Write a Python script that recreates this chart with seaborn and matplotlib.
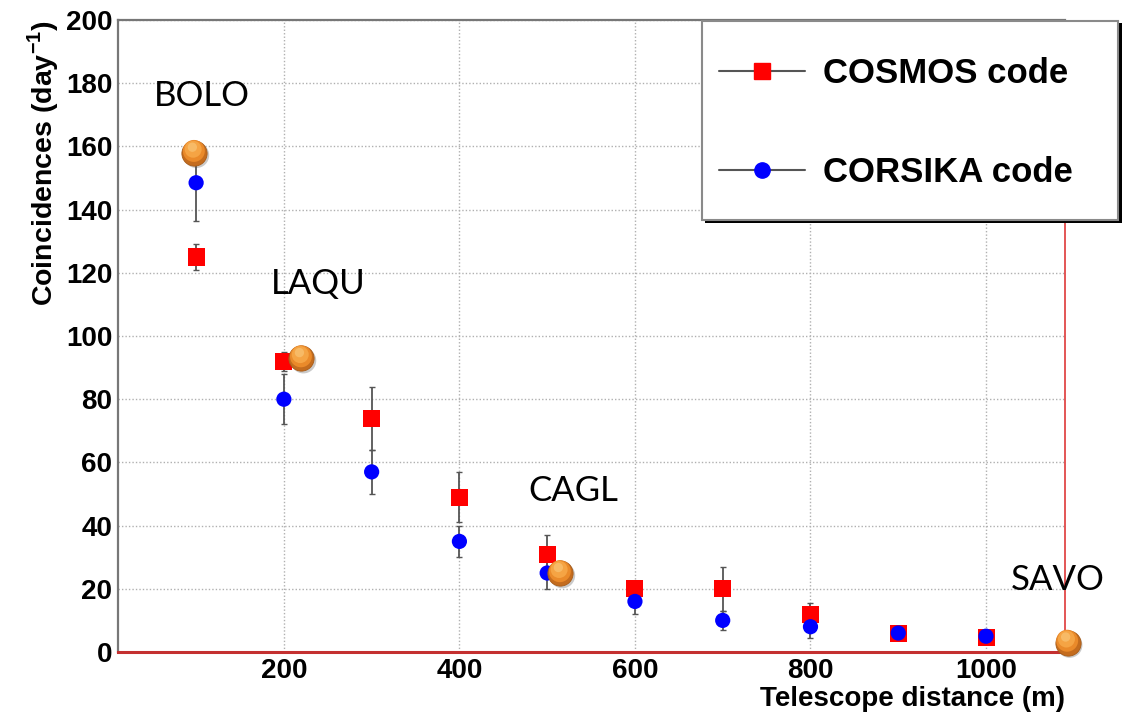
import matplotlib
matplotlib.use("Agg")
import matplotlib.pyplot as plt
from matplotlib.lines import Line2D
from matplotlib.patches import Rectangle
from matplotlib.transforms import ScaledTranslation
import seaborn as sns
import numpy as np
import pandas as pd

# ---------------- data ----------------
distance = [100, 200, 300, 400, 500, 600, 700, 800, 900, 1000]
cosmos = [125, 92, 74, 49, 31, 20, 20, 12, 6, 4.5]
cosmos_err = [4, 3, 10, 8, 6, 2, 7, 3.5, 1, 1]
corsika = [148.5, 80, 57, 35, 25, 16, 10, 8, 6, 5]
corsika_err = [12, 8, 7, 5, 5, 4, 3, 3.5, 1, 1]

stations = ["BOLO", "LAQU", "CAGL", "SAVO"]
station_dist = [98, 220, 515, 1093]
station_coinc = [158, 93, 25, 3]
# label anchor positions (data coords)
label_pos = [(107, 176), (239, 116.6), (530, 51), (1082, 22.7)]

legend_labels = ["COSMOS code", "CORSIKA code"]

# ---------------- style ----------------
sns.set_style("white")
plt.rcParams["font.family"] = ["Liberation Sans", "DejaVu Sans"]
plt.rcParams["mathtext.fontset"] = "custom"
plt.rcParams["mathtext.rm"] = "Liberation Sans"
plt.rcParams["mathtext.bf"] = "Liberation Sans:bold"
plt.rcParams["text.color"] = "black"
plt.rcParams["axes.labelcolor"] = "black"

fig = plt.figure(figsize=(11.22, 7.17), dpi=100)
ax = fig.add_axes([118 / 1122, 65 / 717, 947 / 1122, 632 / 717])

df_c = pd.DataFrame({"d": distance, "v": cosmos})
df_k = pd.DataFrame({"d": distance, "v": corsika})
df_s = pd.DataFrame({"d": station_dist, "v": station_coinc})

ax.errorbar(distance, cosmos, yerr=cosmos_err, fmt="none", ecolor="#555555",
            elinewidth=1.3, capsize=2.5, capthick=1.0, zorder=2)
ax.errorbar(distance, corsika, yerr=corsika_err, fmt="none", ecolor="#555555",
            elinewidth=1.3, capsize=2.5, capthick=1.0, zorder=2)

sns.scatterplot(data=df_c, x="d", y="v", marker="s", color="#ff0000", s=150,
                edgecolor="none", ax=ax, zorder=3)
sns.scatterplot(data=df_k, x="d", y="v", marker="o", color="#0000ff", s=120,
                edgecolor="none", ax=ax, zorder=4)

# orange "balls" with a simple shaded look
def ball_layer(color, s, dx, dy, alpha=1.0, ec="none", lw=0.0, z=6):
    sns.scatterplot(data=df_s, x="d", y="v", marker="o", color=color, s=s,
                    edgecolor=ec, linewidth=lw, alpha=alpha, ax=ax, zorder=z)
    coll = ax.collections[-1]
    coll.set_offset_transform(ax.transData +
                              ScaledTranslation(dx / 100, dy / 100, fig.dpi_scale_trans))
    coll.set_clip_on(False)

ball_layer("#505050", 340, 2.0, -2.5, alpha=0.3, z=5)
ball_layer("#c46c1e", 330, 0, 0, ec="#a85c18", lw=0.6, z=6)
ball_layer("#ea8a2a", 250, -0.5, 1.8, z=7)
ball_layer("#f5a444", 150, -1.2, 3.5, z=8)
ball_layer("#f8bd6a", 45, -2.0, 5.5, alpha=0.9, z=9)

for name, (px, py) in zip(stations, label_pos):
    ax.text(px, py, name, fontsize=25, family=["Lato", "DejaVu Sans"],
            ha="center", va="center", color="black", clip_on=False, zorder=10)

# ---------------- axes ----------------
ax.set_xlim(11, 1090)
ax.set_ylim(0, 200)
ax.set_xticks([200, 400, 600, 800, 1000])
ax.set_xticks(np.arange(50, 1090, 50), minor=True)
ax.set_yticks(np.arange(0, 201, 20))
ax.set_yticks(np.arange(0, 201, 5), minor=True)

ax.tick_params(axis="both", which="both", direction="in", colors="#666666",
               labelcolor="black", width=1.6)
ax.tick_params(axis="y", which="major", length=20, pad=4, labelsize=20)
ax.tick_params(axis="y", which="minor", length=10.5)
ax.tick_params(axis="x", which="major", length=14.5, pad=4, labelsize=20)
ax.tick_params(axis="x", which="minor", length=6.5)
for lab in ax.get_xticklabels() + ax.get_yticklabels():
    lab.set_fontweight("bold")

ax.grid(True, which="major", linestyle=(0, (1, 1.5)), color="#b0b0b0", linewidth=1.0)
ax.set_axisbelow(True)

ax.spines["left"].set_color("#777777")
ax.spines["left"].set_linewidth(1.6)
ax.spines["top"].set_color("#777777")
ax.spines["top"].set_linewidth(1.6)
ax.spines["bottom"].set_color("#c43030")
ax.spines["bottom"].set_linewidth(2.2)
ax.spines["right"].set_color("#e04848")
ax.spines["right"].set_linewidth(1.3)

ax.set_xlabel("Telescope distance (m)", fontsize=20, fontweight="bold")
ax.xaxis.set_label_coords(1.0, -0.0745)
ax.xaxis.label.set_ha("right")
ax.xaxis.label.set_va("center")

ax.set_ylabel(r"Coincidences (day$^{\mathbf{-1}}$)", fontsize=20.5, fontweight="bold")
ax.yaxis.set_label_coords(-0.0795, 1.0)
ax.yaxis.label.set_rotation_mode("default")
ax.yaxis.label.set_ha("center")
ax.yaxis.label.set_va("top")

# ---------------- legend ----------------
# frame with black drop shadow (figure pixels converted to fractions)
W, H = 1122, 717
fig.patches.append(Rectangle(((702 + 3) / W, 1 - (220 + 3) / H), 418 / W, 200 / H,
                             transform=fig.transFigure, facecolor="black",
                             edgecolor="none", zorder=20))
fig.patches.append(Rectangle((702 / W, 1 - 220 / H), 416 / W, 199 / H,
                             transform=fig.transFigure, facecolor="white",
                             edgecolor="#8a8a8a", linewidth=1.5, zorder=21))

handles = [
    Line2D([], [], color="#555555", lw=1.5, marker="s", markersize=12,
           markerfacecolor="#ff0000", markeredgecolor="#ff0000"),
    Line2D([], [], color="#555555", lw=1.5, marker="o", markersize=11,
           markerfacecolor="#0000ff", markeredgecolor="#0000ff"),
]
leg = fig.legend(handles, legend_labels, loc="upper left",
                 bbox_to_anchor=(719 / W, 1 - 57 / H),
                 bbox_transform=fig.transFigure,
                 prop={"family": "Liberation Sans", "weight": "bold", "size": 25},
                 handlelength=2.48, handletextpad=0.52, borderpad=0.0,
                 labelspacing=1.9, borderaxespad=0, frameon=False)
leg.set_zorder(22)

fig.savefig("out.png", dpi=100)
